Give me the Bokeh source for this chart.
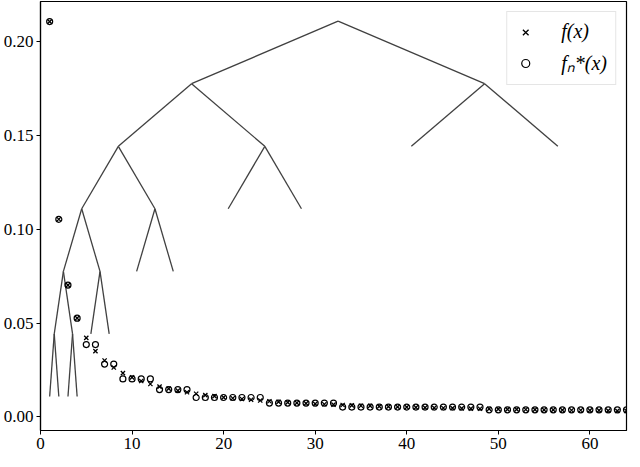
from bokeh.plotting import figure
from bokeh.models import Range1d, FixedTicker, PrintfTickFormatter, Legend, LegendItem, ColumnDataSource
from bokeh.embed import file_html
from bokeh.resources import INLINE

# ---- data ----
x_vals = list(range(1, 65))
f_vals = [0.2108, 0.1054, 0.0703, 0.0527, 0.0422, 0.0351, 0.0301, 0.0264,
          0.0234, 0.0211, 0.0192, 0.0176, 0.0162, 0.0151, 0.0141, 0.0132,
          0.0124, 0.0117, 0.0111, 0.0105, 0.0100, 0.0096, 0.0092, 0.0088,
          0.0084, 0.0081, 0.0078, 0.0075, 0.0073, 0.0070, 0.0068, 0.0066,
          0.0064, 0.0062, 0.0060, 0.0059, 0.0057, 0.0055, 0.0054, 0.0053,
          0.0051, 0.0050, 0.0049, 0.0048, 0.0047, 0.0046, 0.0045, 0.0044,
          0.0043, 0.0042, 0.0041, 0.0041, 0.0040, 0.0039, 0.0038, 0.0038,
          0.0037, 0.0036, 0.0036, 0.0035, 0.0035, 0.0034, 0.0033, 0.0033]
fn_vals = ([0.2108, 0.1054, 0.0703, 0.0527] + [0.0386] * 2 + [0.0282] * 2 +
           [0.0203] * 4 + [0.0146] * 4 + [0.0104] * 8 + [0.0074] * 8 +
           [0.0053] * 16 + [0.0038] * 16)

# tree: level heights and edges (parent x, parent level, child x)
tree_level_y = [0.2110, 0.1777, 0.1443, 0.1110, 0.0776, 0.0443, 0.0109]
edge_parent_x = [32.5, 32.5, 16.5, 16.5, 48.5, 48.5, 8.5, 8.5, 24.5, 24.5,
                 4.5, 4.5, 12.5, 12.5, 2.5, 2.5, 6.5, 6.5, 1.5, 1.5, 3.5, 3.5]
edge_parent_level = [0, 0, 1, 1, 1, 1, 2, 2, 2, 2, 3, 3, 3, 3, 4, 4, 4, 4, 5, 5, 5, 5]
edge_child_x = [16.5, 48.5, 8.5, 24.5, 40.5, 56.5, 4.5, 12.5, 20.5, 28.5,
                2.5, 6.5, 10.5, 14.5, 1.5, 3.5, 5.5, 7.5, 1.0, 2.0, 3.0, 4.0]

x_ticks = [0, 10, 20, 30, 40, 50, 60]
y_ticks = [0.00, 0.05, 0.10, 0.15, 0.20]

FONT = "Liberation Serif"

p = figure(width=630, height=451, output_backend="svg", toolbar_location=None,
           x_range=Range1d(0, 64), y_range=Range1d(-0.0072, 0.2215),
           min_border_top=1, min_border_right=4, min_border_left=2, min_border_bottom=2)
p.grid.visible = False
p.outline_line_color = "black"
p.outline_line_width = 1.2
p.background_fill_color = "white"

for ax in (p.xaxis[0], p.yaxis[0]):
    ax.axis_line_color = "black"
    ax.axis_line_width = 1.2
    ax.major_tick_line_color = "black"
    ax.major_tick_in = 0
    ax.major_tick_out = 4
    ax.minor_tick_line_color = None
    ax.major_label_text_font = FONT
    ax.major_label_text_font_size = "17px"
    ax.major_label_text_color = "black"
    ax.major_label_standoff = 3

p.xaxis[0].ticker = FixedTicker(ticks=x_ticks)
p.yaxis[0].ticker = FixedTicker(ticks=y_ticks)
p.xaxis[0].formatter = PrintfTickFormatter(format="%d")
p.yaxis[0].formatter = PrintfTickFormatter(format="%.2f")

# tree
tree_src = ColumnDataSource(dict(
    x0=edge_parent_x,
    y0=[tree_level_y[l] for l in edge_parent_level],
    x1=edge_child_x,
    y1=[tree_level_y[l + 1] for l in edge_parent_level],
))
p.segment(x0="x0", y0="y0", x1="x1", y1="y1", source=tree_src,
          line_color="#404040", line_width=1.3)

# markers
r_f = p.scatter(x_vals, f_vals, marker="x", size=6, line_color="black", line_width=1.3)
r_fn = p.scatter(x_vals, fn_vals, marker="circle", size=6, fill_color=None,
                 line_color="black", line_width=1.2)

legend = Legend(items=[LegendItem(label="f(x)", renderers=[r_f]),
                       LegendItem(label="fₙ*(x)", renderers=[r_fn])],
                location="top_right")
legend.label_text_font = FONT
legend.label_text_font_style = "italic"
legend.label_text_font_size = "20px"
legend.label_text_color = "black"
legend.label_standoff = 26
legend.glyph_width = 20
legend.glyph_height = 22
legend.spacing = 6
legend.padding = 8
legend.margin = 10
legend.border_line_color = "#cccccc"
legend.border_line_width = 1
legend.background_fill_alpha = 0.8
p.add_layout(legend)

open("out.html", "w").write(file_html(p, INLINE))
